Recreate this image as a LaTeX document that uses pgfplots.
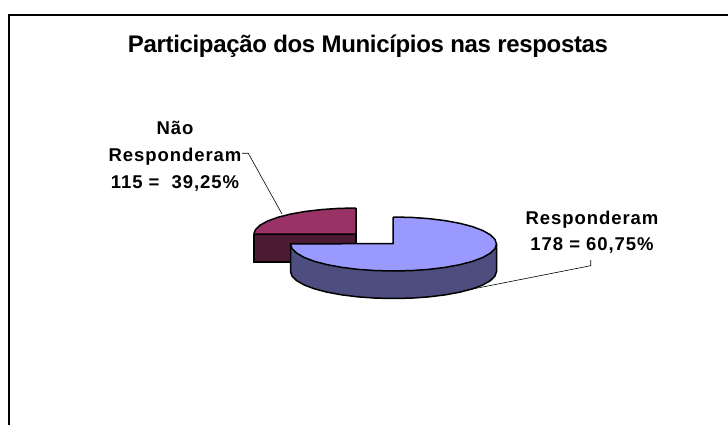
\documentclass[border=0pt]{standalone}
\usepackage{pgfplots}
\usepackage{fontspec}
\pgfplotsset{compat=1.18}
\setmainfont{Liberation Sans}
\newfontfamily\titlefont[LetterSpace=-1.4]{Liberation Sans}
\newfontfamily\labelfont[LetterSpace=5]{Liberation Sans}
\definecolor{blueTop}{HTML}{9999FF}
\definecolor{blueSide}{HTML}{4D4D80}
\definecolor{wineTop}{HTML}{993366}
\definecolor{wineSide}{HTML}{4D1A33}

\begin{document}
\begin{tikzpicture}
\begin{axis}[
  scale only axis,
  width=728pt, height=425pt,
  xmin=0, xmax=728,
  ymin=0, ymax=425,
  y dir=reverse,
  axis lines=none,
]

% keeps the page as large as the whole axis
\addplot[draw=none] coordinates {(0,0) (728,425)};

% chart frame, open at right and bottom
\addplot[black, line width=2pt] coordinates {(9,425) (9,15.3) (728,15.3)};

% Nao Responderam wedge, pulled out to the upper left
\addplot[fill=wineSide, draw=black, line width=1.5pt] coordinates {
  (254,234) (356,234) (356,262) (254,262) (254,234)};
\addplot[fill=wineTop, draw=black, line width=1.5pt] coordinates {
  (356,208) (338.3,208.4) (321.1,209.6) (305,211.5) (290.4,214.1) (277.9,217.3)
  (267.7,221) (260.2,225.1) (255.6,229.5) (254,233) (254,234) (356,234) (356,208)};

% Responderam wedge: rim first, then top face
\addplot[fill=blueSide, draw=black, line width=1.5pt] coordinates {
  (496.5,244) (290.5,244) (290.5,271.5) (292.1,276.2) (296.7,280.7) (304.3,285)
  (314.6,288.9) (327.3,292.2) (342,294.9) (358.3,296.9) (375.6,298.1) (393.5,298.5)
  (411.4,298.1) (428.7,296.9) (445,294.9) (459.7,292.2) (472.4,288.9) (482.7,285)
  (490.3,280.7) (494.9,276.2) (496.5,271.5) (496.5,244)};
\addplot[fill=blueTop, draw=black, line width=1.5pt] coordinates {
  (393,217) (411.4,217.4) (428.7,218.6) (445,220.6) (459.7,223.3) (472.4,226.6)
  (482.7,230.5) (490.3,234.8) (494.9,239.3) (496.5,244) (494.9,248.7) (490.3,253.2)
  (482.7,257.5) (472.4,261.4) (459.7,264.7) (445,267.4) (428.7,269.4) (411.4,270.6)
  (393.5,271) (375.6,270.6) (358.3,269.4) (342,267.4) (327.3,264.7) (314.6,261.4)
  (304.3,257.5) (296.7,253.2) (292.1,248.7) (290.5,244) (393,243.5) (393,217)};

% leader lines
\addplot[black, line width=0.6pt] coordinates {(242,153.3) (248.3,153.3) (282,214)};
\addplot[black, line width=0.6pt] coordinates {(470,289.5) (590.7,265.7) (590.7,260)};

\node[font=\titlefont\bfseries\fontsize{24}{27}\selectfont, anchor=base]
  at (axis cs:368,53) {Participação dos Municípios nas respostas};

\node[font=\labelfont\bfseries\fontsize{18.5}{27}\selectfont, align=center, anchor=center]
  at (axis cs:175,156) {Não\\Responderam\\115 =\ \ 39,25\%};
\node[font=\labelfont\bfseries\fontsize{18.5}{26.5}\selectfont, align=center, anchor=center]
  at (axis cs:592,232) {Responderam\\178 = 60,75\%};

\end{axis}
\end{tikzpicture}
\end{document}
